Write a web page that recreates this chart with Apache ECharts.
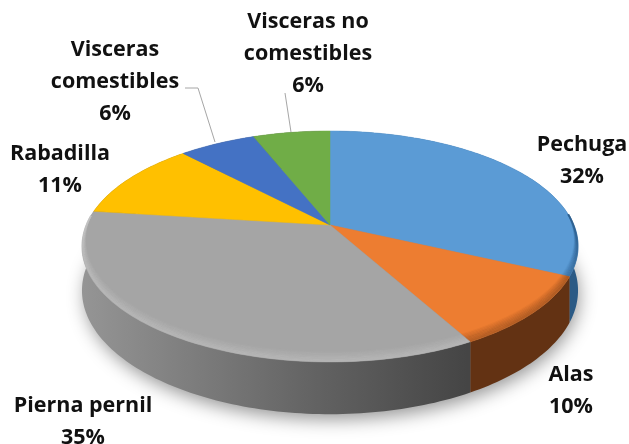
<!DOCTYPE html>
<html>
<head>
<meta charset="utf-8">
<style>
  html, body { margin: 0; padding: 0; background: #fff; }
  #chart { width: 629px; height: 444px; }
</style>
<script src="https://cdn.jsdelivr.net/npm/echarts@6/dist/echarts.min.js"></script>
</head>
<body>
<div id="chart"></div>
<script>
// datos
const categories = ['Pechuga', 'Alas', 'Pierna pernil', 'Rabadilla', 'Visceras\ncomestibles', 'Visceras no\ncomestibles'];
const values = [32, 10, 35, 11, 6, 6];
const colors = ['#5b9bd5', '#ed7d31', '#a5a5a5', '#ffc000', '#4472c4', '#70ad47'];
const rimColors = ['#2f6190', '#8f4a1c', '#c6c6c6', '#b88a00', '#2c4d8a', '#4a7a2e'];

// layout of the tilted disc (perspective projection of a circle)
const apexX = 330, apexY = 225;
const scaleX = 243.7, scaleY = 111.5, persp = -0.186, depth = 42.5;
const labelCenters = [[582, 161], [571, 391], [83, 422], [60, 170], [115, 82], [308, 54]];
const leaders = [
  null, null, null, null,
  [[185, 88], [198, 88], [215, 142]],
  [[285, 93], [291, 132]]
];

const total = values.reduce((a, b) => a + b, 0);

function project(theta, r, drop) {
  const u = Math.sin(theta) * r, v = -Math.cos(theta) * r;
  const w = 1 + persp * v;
  return [apexX + scaleX * u / w, apexY + (scaleY * v + (drop || 0)) / w];
}

function sliceAngles(idx) {
  let before = 0;
  for (let i = 0; i < idx; i++) before += values[i];
  return [before / total * Math.PI * 2, (before + values[idx]) / total * Math.PI * 2];
}

function arc(a0, a1, r, drop) {
  const pts = [];
  const n = Math.max(2, Math.ceil((a1 - a0) / 0.02));
  for (let i = 0; i <= n; i++) {
    pts.push(project(a0 + (a1 - a0) * i / n, r, drop));
  }
  return pts;
}

function wallFill(idx) {
  if (idx === 2) {
    return { type: 'linear', x: 82, y: 0, x2: 467, y2: 0, global: true,
      colorStops: [{ offset: 0, color: '#959595' }, { offset: 0.6, color: '#636363' }, { offset: 1, color: '#454545' }] };
  }
  if (idx === 1) return '#633213';
  if (idx === 0) return '#2b5a85';
  return '#555555';
}

function renderItem(params, api) {
  const idx = params.dataIndex;
  const ang = sliceAngles(idx);
  const children = [];

  if (idx === 0) {
    // soft shadow under the whole disc
    children.push({
      type: 'polygon', silent: true, z2: 0,
      shape: { points: arc(0, Math.PI * 2, 0.995, depth) },
      style: { fill: '#888', shadowBlur: 18, shadowColor: 'rgba(0,0,0,0.42)', shadowOffsetY: 6, shadowOffsetX: 2 }
    });
  }

  // pared lateral
  const top = arc(ang[0], ang[1], 1, 0);
  const bottom = arc(ang[0], ang[1], 1, depth).reverse();
  children.push({
    type: 'polygon', silent: true, z2: 1,
    shape: { points: top.concat(bottom) },
    style: { fill: wallFill(idx) }
  });

  // cara superior
  children.push({
    type: 'polygon', silent: true, z2: 2,
    shape: { points: [[apexX, apexY]].concat(top) },
    style: { fill: colors[idx], stroke: colors[idx], lineWidth: 0.5 }
  });

  // bisel del borde, solo en la mitad delantera
  for (let d = 0; d < 8; d++) {
    const pts = [];
    const n = Math.max(2, Math.ceil((ang[1] - ang[0]) / 0.02));
    for (let i = 0; i <= n; i++) {
      const t = ang[0] + (ang[1] - ang[0]) * i / n;
      const fade = (-Math.cos(t) + 0.1) / 1.1;
      if (fade > 0) pts.push(project(t, 1 - (d + 0.5) / 125 * fade, 0));
    }
    if (pts.length > 1) {
      children.push({
        type: 'polyline', silent: true, z2: 3,
        shape: { points: pts },
        style: { stroke: rimColors[idx], lineWidth: 1.6, fill: 'none', opacity: idx === 2 ? 0.45 * (1 - d / 8) : 0.55 * (1 - d / 8) }
      });
    }
  }

  if (leaders[idx]) {
    children.push({
      type: 'polyline', silent: true, z2: 4,
      shape: { points: leaders[idx] },
      style: { stroke: '#a6a6a6', lineWidth: 1, fill: 'none' }
    });
  }

  children.push({
    type: 'text', silent: true, z2: 5,
    style: {
      x: labelCenters[idx][0], y: labelCenters[idx][1],
      text: categories[idx] + '\n' + api.value(0) + '%',
      align: 'center', verticalAlign: 'middle',
      font: 'bold 21.5px "Open Sans"', lineHeight: 32, fill: '#111111'
    }
  });

  return { type: 'group', children: children };
}

const chart = echarts.init(document.getElementById('chart'), null, { renderer: 'canvas' });
chart.setOption({
  animation: false,
  backgroundColor: '#ffffff',
  series: [{
    type: 'custom',
    coordinateSystem: 'none',
    renderItem: renderItem,
    data: values.map(v => [v])
  }]
});
</script>
</body>
</html>
